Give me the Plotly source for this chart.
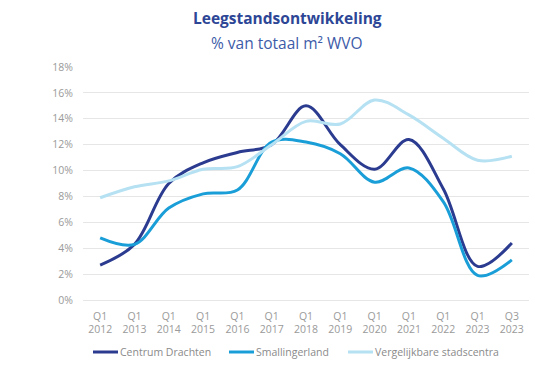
import plotly.graph_objects as go

# Quarters shown on the category axis
quarters = ["Q1<br>2012", "Q1<br>2013", "Q1<br>2014", "Q1<br>2015", "Q1<br>2016",
            "Q1<br>2017", "Q1<br>2018", "Q1<br>2019", "Q1<br>2020", "Q1<br>2021",
            "Q1<br>2022", "Q1<br>2023", "Q3<br>2023"]

# Vacancy as % of total floor area (m² WVO)
centrum_drachten = [2.7, 4.3, 9.0, 10.6, 11.4, 12.0, 15.0, 12.0, 10.1, 12.4, 8.6, 2.6, 4.4]
smallingerland = [4.8, 4.3, 7.1, 8.2, 8.5, 12.2, 12.2, 11.3, 9.1, 10.2, 7.6, 1.9, 3.1]
vergelijkbare = [7.9, 8.75, 9.2, 10.1, 10.3, 12.0, 13.8, 13.6, 15.45, 14.3, 12.5, 10.8, 11.1]

series = [
    ("Centrum Drachten", centrum_drachten, "#2b3b8f"),
    ("Smallingerland", smallingerland, "#1a9ed8"),
    ("Vergelijkbare stadscentra", vergelijkbare, "#b5e1f3"),
]

W, H = 535, 379
L, R, T, B = 83, 6, 67, 79

fig = go.Figure()
for name, values, color in series:
    fig.add_trace(go.Scatter(
        x=quarters, y=values, name=name, mode="lines", showlegend=False,
        line=dict(color=color, width=3, shape="spline", smoothing=1.0),
    ))

# Compact legend: short line + label, positioned in pixels of the page
legend_x = [93, 229, 348]  # left edge of each legend swatch
legend_y = 352
shapes = []
annotations = []
for (name, _, color), x0 in zip(series, legend_x):
    shapes.append(dict(type="line", xref="paper", yref="paper",
                       x0=(x0 - L) / (W - L - R), x1=(x0 + 25 - L) / (W - L - R),
                       y0=(H - B - legend_y) / (H - T - B), y1=(H - B - legend_y) / (H - T - B),
                       line=dict(color=color, width=3)))
    annotations.append(dict(text=name, xref="paper", yref="paper",
                            x=(x0 + 25 - L) / (W - L - R),
                            y=(H - B - legend_y) / (H - T - B),
                            xanchor="left", yanchor="middle", showarrow=False,
                            font=dict(size=10.5, color="#8a8a8a", family="Open Sans")))

PH = H - T - B
annotations += [
    dict(text="<b>Leegstandsontwikkeling</b>", xref="paper", yref="paper",
         x=(287 - L) / (W - L - R), y=1 + (T - 18) / PH, xanchor="center", yanchor="middle",
         showarrow=False, font=dict(size=15.5, color="#2d4696", family="Open Sans")),
    dict(text="% van totaal m² WVO", xref="paper", yref="paper",
         x=(287 - L) / (W - L - R), y=1 + (T - 43) / PH, xanchor="center", yanchor="middle",
         showarrow=False, font=dict(size=15.5, color="#3d5ba8", family="Open Sans")),
]

fig.update_layout(
    width=W, height=H,
    margin=dict(l=L, r=R, t=T, b=B),
    paper_bgcolor="white", plot_bgcolor="white",
    font=dict(family="Open Sans", color="#9a9a9a", size=10.5),
    showlegend=False,
    xaxis=dict(type="category", range=[-0.5, 12.5], showgrid=False, automargin=False,
               showline=False, ticks="", ticklabelstandoff=8,
               tickfont=dict(size=10.5, color="#9a9a9a")),
    yaxis=dict(range=[0, 18], tickvals=list(range(0, 19, 2)),
               ticktext=[f"{v}%" for v in range(0, 19, 2)], automargin=False,
               showgrid=True, gridcolor="#e6e6e6", gridwidth=1,
               zeroline=True, zerolinecolor="#e6e6e6", zerolinewidth=1,
               showline=False, ticks="", ticklabelstandoff=9,
               tickfont=dict(size=10.5, color="#9a9a9a")),
    shapes=shapes,
    annotations=annotations,
)

fig.write_html("out.html")
